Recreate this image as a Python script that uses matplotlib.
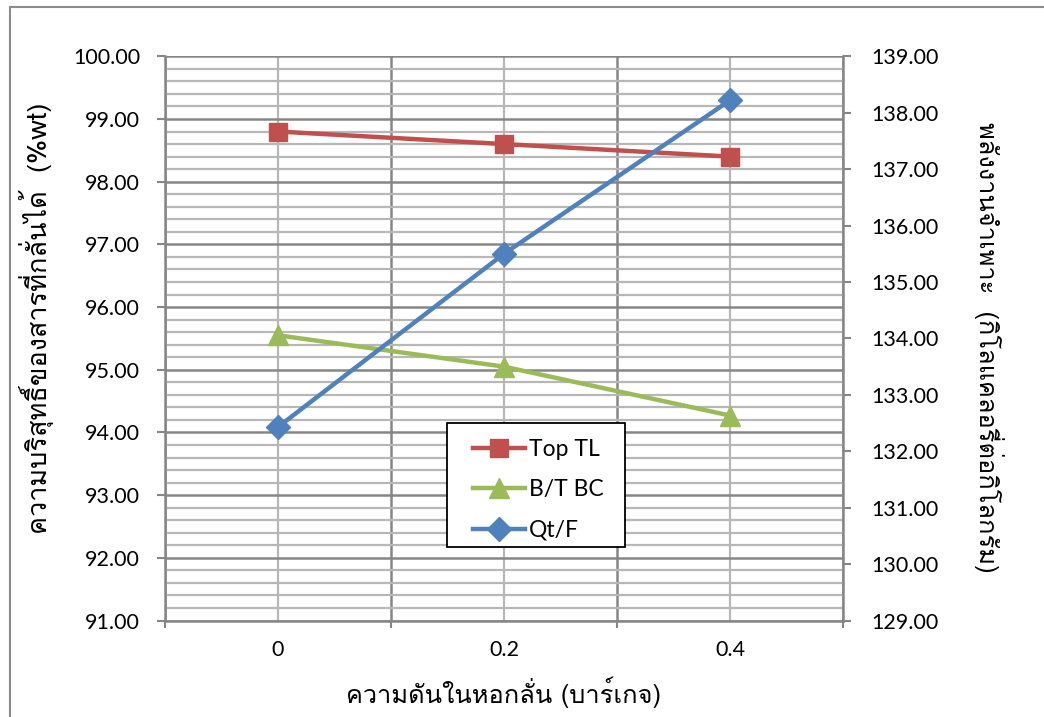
import numpy as np
import matplotlib
matplotlib.use("Agg")
import matplotlib.pyplot as plt
from matplotlib import font_manager
from matplotlib.ft2font import FT2Font
from matplotlib.ticker import MultipleLocator, FixedLocator, FormatStrFormatter
from matplotlib.patches import Rectangle

# pressure in the column (bar gauge)
pressure = ["0", "0.2", "0.4"]
top_tl = [98.80, 98.60, 98.40]       # left axis, %wt
bt_bc = [95.55, 95.05, 94.27]        # left axis, %wt
qt_f = [132.43, 135.50, 138.22]      # right axis, kcal/kg

xlabel = "ความดันในหอกลั่น (บาร์เกจ)"
ylabel_left = "ความบริสุทธิ์ของสารที่กลั่นได้  (%wt)"
ylabel_right = "พลังงานจำเพาะ  (กิโลแคลอรี่ต่อกิโลกรัม)"


def find_thai_font():
    for f in font_manager.fontManager.ttflist:
        try:
            cmap = FT2Font(f.fname).get_charmap()
        except Exception:
            continue
        if 0x0E01 in cmap and 0x0E32 in cmap:
            return f.name
    return "DejaVu Sans"


thai = find_thai_font()
num_font = "Lato"
plt.rcParams["font.family"] = [num_font, "DejaVu Sans"]

RED = "#C0504D"
GREEN = "#9BBB59"
BLUE = "#4F81BD"
DARK = "#868686"
LIGHT = "#B7B7B7"
TICK_FS = 15.5
LABEL_FS = 18.3

fig = plt.figure(figsize=(10.44, 7.17), dpi=100)
ax = fig.add_axes([0.158, 0.1345, 0.6495, 0.787])

# outer chart frame
fig.patches.append(Rectangle((10 / 1044, -0.05), 1.2, 1.05 - 7 / 717,
                             transform=fig.transFigure, fill=False,
                             edgecolor="#8C8C8C", linewidth=1.5, zorder=-5))

x = np.arange(len(pressure))

ax.set_xlim(-0.5, len(pressure) - 0.5)
ax.set_ylim(91, 100)
ax.yaxis.set_major_locator(MultipleLocator(1))
ax.yaxis.set_minor_locator(MultipleLocator(0.2))
ax.yaxis.set_major_formatter(FormatStrFormatter("%.2f"))
ax.xaxis.set_major_locator(FixedLocator(x))
ax.xaxis.set_minor_locator(FixedLocator(np.arange(len(pressure) + 1) - 0.5))
ax.set_xticklabels(pressure)

ax.grid(which="major", axis="y", color=DARK, linewidth=1.8)
ax.grid(which="minor", axis="y", color=LIGHT, linewidth=1.6)
ax.grid(which="major", axis="x", color=LIGHT, linewidth=1.6)
ax.grid(which="minor", axis="x", color=DARK, linewidth=1.8)
ax.set_axisbelow(True)

for side in ["top", "right"]:
    ax.spines[side].set_visible(False)
for side in ["left", "bottom"]:
    ax.spines[side].set_color(DARK)
    ax.spines[side].set_linewidth(1.8)

ax.tick_params(axis="y", which="major", length=6, width=1.5, color=DARK,
               pad=12, labelsize=TICK_FS)
ax.tick_params(axis="y", which="minor", length=0)
ax.tick_params(axis="x", which="major", length=0, pad=14, labelsize=TICK_FS)
ax.tick_params(axis="x", which="minor", length=5, width=1.5, color=DARK)

l1, = ax.plot(x, top_tl, color=RED, lw=3.2, marker="s", ms=13.5, label="Top TL", zorder=3)
l2, = ax.plot(x, bt_bc, color=GREEN, lw=3.2, marker="^", ms=15, label="B/T BC", zorder=3)

ax2 = ax.twinx()
ax2.set_ylim(129, 139)
ax2.yaxis.set_major_locator(MultipleLocator(1))
ax2.yaxis.set_major_formatter(FormatStrFormatter("%.2f"))
for side in ["top", "left", "bottom"]:
    ax2.spines[side].set_visible(False)
ax2.spines["right"].set_color(DARK)
ax2.spines["right"].set_linewidth(1.8)
ax2.tick_params(axis="y", length=6, width=1.5, color=DARK, pad=14, labelsize=TICK_FS)

l3, = ax2.plot(x, qt_f, color=BLUE, lw=3.2, marker="D", ms=12, label="Qt/F", zorder=3)

ax.set_xlabel(xlabel, family=[thai, "DejaVu Sans"], fontsize=LABEL_FS, va="center")
ax.xaxis.set_label_coords(0.5, -0.127)
ax.set_ylabel(ylabel_left, family=[thai, "DejaVu Sans"], fontsize=19.5, va="center")
ax.yaxis.set_label_coords(-0.19, 0.535)
ax2.set_ylabel(ylabel_right, family=[thai, "DejaVu Sans"], fontsize=LABEL_FS,
               rotation=270, va="center")
ax2.yaxis.set_label_coords(1.215, 0.485)

# legend box drawn separately so it can be padded wider than tall
box = Rectangle((0.416, 0.130), 0.262, 0.220, transform=ax2.transAxes,
                facecolor="white", edgecolor="black", linewidth=1.3, zorder=4.9)
ax2.add_patch(box)
leg = ax2.legend(handles=[l1, l2, l3], loc="center", bbox_to_anchor=(0.55, 0.232),
                 frameon=False, fontsize=16.5, handlelength=2.3, labelspacing=0.85,
                 handletextpad=0.15, borderpad=0, borderaxespad=0)

fig.savefig("out.png", dpi=100)
